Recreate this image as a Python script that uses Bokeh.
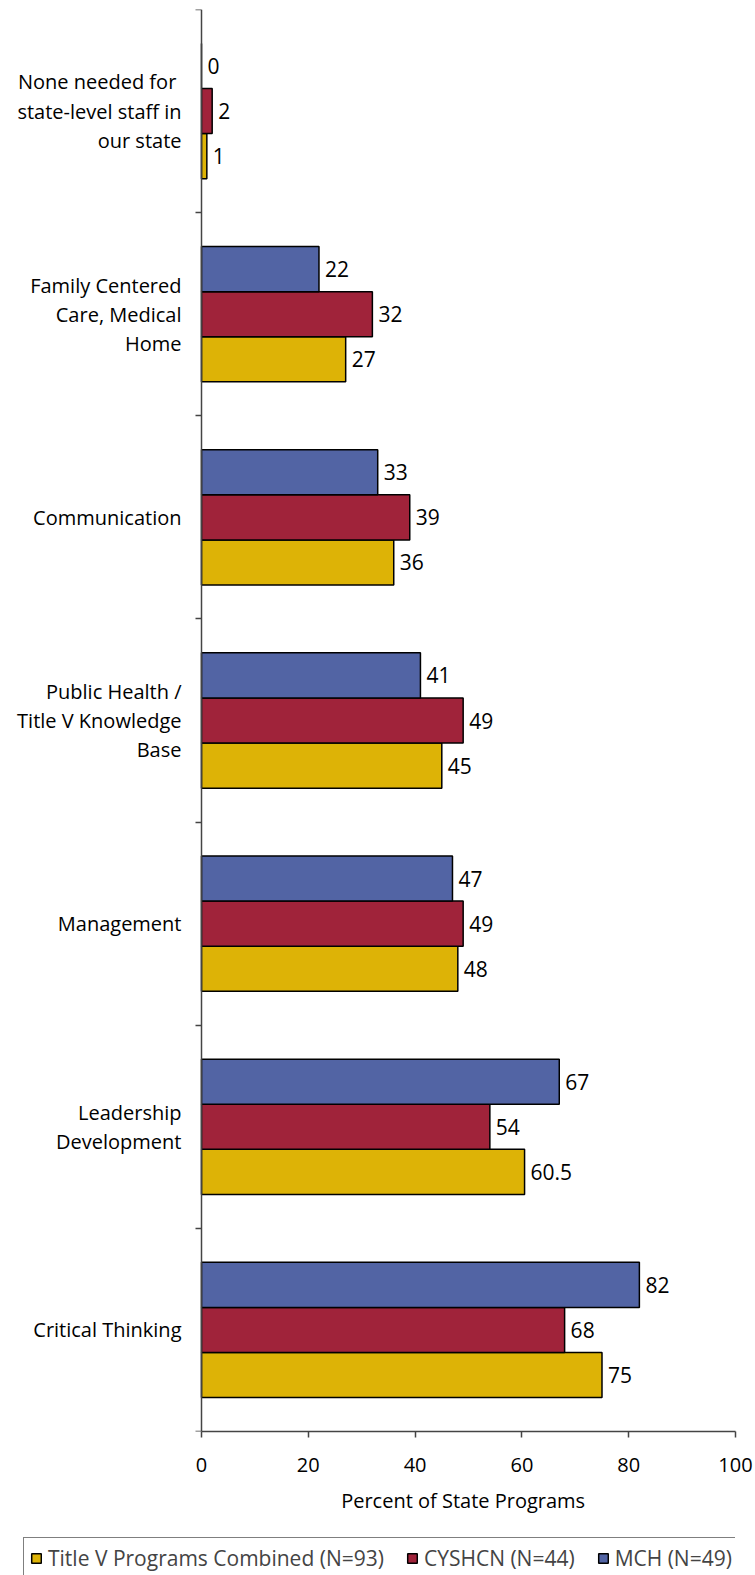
from bokeh.plotting import figure
from bokeh.layouts import column
from bokeh.models import (Range1d, FixedTicker, Legend, LegendItem,
                          ColumnDataSource)
from bokeh.core.properties import value
from bokeh.embed import file_html
from bokeh.resources import INLINE

categories = [
    "None  needed for\nstate-level staff in\nour state",
    "Family Centered\nCare, Medical\nHome",
    "Communication",
    "Public Health /\nTitle V Knowledge\nBase",
    "Management",
    "Leadership\nDevelopment",
    "Critical Thinking",
]
mch = [0, 22, 33, 41, 47, 67, 82]
cyshcn = [2, 32, 39, 49, 49, 54, 68]
combined = [1, 27, 36, 45, 48, 60.5, 75]
series_names = ["Title V Programs Combined (N=93)", "CYSHCN (N=44)", "MCH (N=49)"]
x_ticks = [0, 20, 40, 60, 80, 100]
x_title = "Percent of State Programs"

FONT = "Open Sans"
FS = "20px"
COL_Y = "#DDB306"
COL_R = "#A0233A"
COL_B = "#5264A4"
series_colors = [COL_Y, COL_R, COL_B]
AX = "#444444"
X_START, X_END = -35.58, 100

n = len(categories)
centers = [n - 0.5 - i for i in range(n)]
bw = 0.222

# frame spans nearly the full width; the value axis starts at x=0 inside it
p = figure(width=755, height=1486, output_backend="svg", toolbar_location=None,
           x_range=Range1d(X_START, X_END), y_range=Range1d(0, n),
           min_border_left=11, min_border_right=20, min_border_top=9,
           min_border_bottom=55)
p.outline_line_color = None
p.grid.grid_line_color = None
p.background_fill_color = "white"


def fmt(v):
    return str(int(v)) if float(v).is_integer() else str(v)


for vals, col, off in [(combined, COL_Y, -bw), (cyshcn, COL_R, 0.0), (mch, COL_B, bw)]:
    src = ColumnDataSource(dict(y=[c + off for c in centers], right=vals,
                                lab=[fmt(v) for v in vals]))
    p.hbar(y="y", right="right", left=0, height=bw, source=src,
           fill_color=col, line_color="black", line_width=1.5)
    p.text(x="right", y="y", text="lab", source=src, x_offset=6,
           text_baseline="middle", text_align="left",
           text_font=value(FONT), text_font_size="21px", text_color="black")

# category labels, right-aligned left of the value axis
cat_src = ColumnDataSource(dict(x=[0] * n, y=centers, t=categories))
p.text(x="x", y="y", text="t", source=cat_src, x_offset=-20,
       text_align="right", text_baseline="middle", text_line_height=1.08,
       text_font=value(FONT), text_font_size=FS, text_color="black")

# x axis
p.xaxis.ticker = FixedTicker(ticks=x_ticks)
p.xaxis.bounds = (0, 100)
p.xaxis.major_label_text_font = FONT
p.xaxis.major_label_text_font_size = FS
p.xaxis.major_label_standoff = 20
p.xaxis.major_tick_out = 6
p.xaxis.major_tick_in = 0
p.xaxis.minor_tick_line_color = None
p.xaxis.axis_line_color = AX
p.xaxis.axis_line_width = 1.5
p.xaxis.major_tick_line_color = AX
p.xaxis.major_tick_line_width = 1.5
p.xaxis.major_label_text_color = "black"

# y axis drawn at x = 0, ticks at category boundaries
p.yaxis.fixed_location = 0
p.yaxis.bounds = (0, n)
p.yaxis.ticker = FixedTicker(ticks=list(range(n + 1)))
p.yaxis.major_label_text_font_size = "0px"
p.yaxis.major_label_standoff = 0
p.yaxis.major_tick_out = 6
p.yaxis.major_tick_in = 0
p.yaxis.minor_tick_line_color = None
p.yaxis.major_tick_line_color = AX
p.yaxis.major_tick_line_width = 1.5
p.yaxis.axis_line_color = AX
p.yaxis.axis_line_width = 1.5

# strip below the chart: axis title and legend
lg = figure(width=755, height=89, output_backend="svg", toolbar_location=None,
            x_range=Range1d(X_START, X_END), y_range=Range1d(0, 89),
            x_axis_location=None, y_axis_location=None, min_border=0,
            min_border_left=11, min_border_right=20)
lg.outline_line_color = None
lg.grid.grid_line_color = None
lg.text(x=[49], y=[75], text=[x_title], text_align="center",
        text_baseline="middle", text_font=value(FONT), text_font_size=FS,
        text_color="black")
items = []
for nm, col in zip(series_names, series_colors):
    r = lg.rect(x=[-500], y=[-500], width=1, height=1, fill_color=col,
                line_color="black", line_width=1.5)
    items.append(LegendItem(label=nm, renderers=[r]))
legend = Legend(items=items, orientation="horizontal", location=(12, -4),
                label_text_font=FONT, label_text_font_size="21px",
                glyph_width=12, glyph_height=12, spacing=22, padding=6,
                label_standoff=6, margin=0, label_height=24,
                border_line_color="black", border_line_width=1.2,
                background_fill_alpha=1)
lg.add_layout(legend, "center")

layout = column(p, lg, spacing=0)
open("out.html", "w").write(file_html(layout, INLINE))
